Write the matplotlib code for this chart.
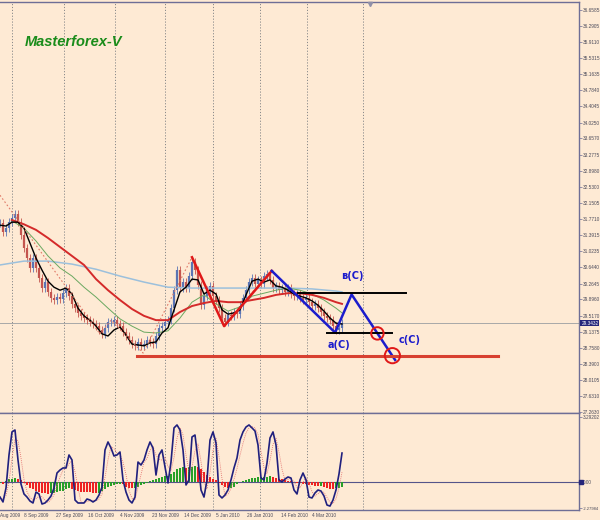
import matplotlib
matplotlib.use("Agg")
import matplotlib.pyplot as plt
import matplotlib.transforms as mtrans
import numpy as np
import pandas as pd

# ---- daily closes (one value per bar) ----
close = [31.68, 31.47, 31.56, 31.70, 31.80, 31.89, 31.70, 31.40, 31.10, 30.86,
         30.63, 30.86, 30.63, 30.39, 30.16, 30.30, 30.07, 29.93, 29.88, 29.95,
         29.90, 30.04, 30.16, 29.97, 29.79, 29.69, 29.58, 29.51, 29.46, 29.41,
         29.37, 29.32, 29.27, 29.18, 29.09, 29.23, 29.37, 29.37, 29.41, 29.32,
         29.27, 29.13, 29.04, 28.95, 28.85, 28.81, 28.90, 28.81, 28.85, 28.95,
         28.90, 28.85, 29.04, 29.23, 29.27, 29.37, 29.41, 29.69, 30.11, 30.58,
         30.16, 30.30, 30.16, 30.44, 30.77, 30.58, 30.23, 29.76, 29.97, 30.11,
         30.21, 29.97, 29.88, 29.69, 29.46, 29.37, 29.53, 29.51, 29.60, 29.55,
         29.74, 29.93, 30.11, 30.30, 30.39, 30.25, 30.35, 30.25, 30.44, 30.49,
         30.35, 30.16, 30.21, 30.11, 30.16, 30.07, 30.16, 30.02, 29.97, 30.02,
         29.93, 29.88, 29.93, 29.83, 29.74, 29.79, 29.69, 29.60, 29.51, 29.46,
         29.41, 29.27, 29.18, 29.23, 29.34]
last_price = 29.3432

# ---- moving averages ----
fast_ma_x = list(range(0, 115, 2))
fast_ma = [31.63, 31.61, 31.70, 31.70, 31.56, 31.21, 30.86, 30.58, 30.32, 30.18,
           30.11, 30.16, 30.02, 29.69, 29.51, 29.41, 29.27, 29.09, 29.04, 29.18,
           29.25, 29.06, 28.85, 28.83, 28.81, 28.88, 28.90, 29.11, 29.23, 29.65,
           30.07, 30.18, 30.37, 30.35, 30.02, 30.11, 30.02, 29.65, 29.55, 29.58,
           29.65, 30.00, 30.32, 30.37, 30.30, 30.35, 30.21, 30.18, 30.11, 30.02,
           29.97, 29.93, 29.86, 29.76, 29.62, 29.46, 29.34, 29.32]
mid_ma_x = list(range(4, 113, 4)) + [114]
red_ma = [31.75, 31.65, 31.52, 31.33, 31.12, 30.91, 30.70, 30.37, 30.11, 29.88,
          29.67, 29.51, 29.41, 29.41, 29.60, 29.74, 29.81, 29.86, 29.83, 29.83,
          29.88, 29.93, 30.00, 30.04, 30.04, 30.00, 29.93, 29.83, 29.79]
green_ma = [31.73, 31.56, 31.26, 30.91, 30.63, 30.44, 30.18, 29.95, 29.69, 29.44,
            29.27, 29.13, 29.11, 29.16, 29.46, 29.83, 30.00, 29.79, 29.62, 29.72,
            29.97, 30.04, 30.11, 30.16, 30.11, 30.02, 29.88, 29.69, 29.58]
slow_ma_x = list(range(0, 113, 8)) + [114]
slow_ma = [30.70, 30.79, 30.79, 30.72, 30.60, 30.44, 30.30, 30.18, 30.16, 30.16,
           30.16, 30.16, 30.16, 30.14, 30.09, 30.07]

# ---- zigzag / wave markup ----
zz_x = [0, 33.3, 37, 47.7, 64, 74.7, 90.3, 111.7]
zz_y = [32.33, 29.09, 29.41, 28.64, 30.88, 29.27, 30.58, 29.11]
red_wave_x = [64, 74.7, 90.6]
red_wave_y = [30.88, 29.27, 30.56]
blue_wave_x = [90.6, 111.7, 117.2, 131.7]
blue_wave_y = [30.56, 29.12, 30.01, 28.48]
level_b = (99.3, 135.3, 30.04)
level_a = (108.9, 130.6, 29.10)
level_low = (45.7, 166.0, 28.57)
targets_x = [125.8, 130.8]
targets_y = [29.10, 28.58]
wave_labels = [("в(C)", 117.6, 30.44), ("a(C)", 113.1, 28.83), ("c(C)", 136.4, 28.95)]

# ---- oscillator panel ----
osc = [-1.32, -1.75, -0.53, 2.37, 4.39, 4.56, 1.93, -0.18, -1.05, -1.32,
       -1.67, -1.84, -0.88, -1.05, -1.93, -1.84, -1.58, -1.23, -0.53, 0.79,
       1.05, 1.23, 1.23, 2.37, 1.93, -1.58, -1.84, -1.84, -1.84, -1.49,
       -1.58, -1.75, -1.58, -1.14, -0.44, 2.81, 3.51, 2.98, 2.28, 2.37,
       2.63, 0.18, -0.88, -1.58, -1.84, -1.32, 1.75, 1.49, 1.93, 2.81,
       3.51, 2.98, 0.61, 2.37, 2.81, 1.32, -0.09, 1.75, 4.74, 5.00,
       4.56, 2.81, -0.26, 0.18, 3.95, 4.12, 1.93, -0.70, -1.32, 0.18,
       3.68, 4.39, 3.42, -1.14, -1.40, -1.14, -0.70, 0.18, 1.23, 2.11,
       3.68, 4.39, 4.82, 5.00, 4.74, 4.47, 3.25, 0.35, 0.18, 1.67,
       3.86, 4.39, 3.25, 0.18, 0.00, 0.26, 0.44, 0.35, -0.70, -1.05,
       0.18, 0.79, 0.18, -1.32, -1.40, -0.96, -0.70, -0.79, -1.23, -2.02,
       -2.11, -1.58, -0.70, 0.70, 2.54]
hist = [-0.10, -0.15, 0.10, 0.25, 0.30, 0.35, 0.30, 0.15, -0.05, -0.30,
        -0.50, -0.65, -0.80, -0.90, -0.95, -1.00, -1.05, -1.00, -0.95, -0.90,
        -0.82, -0.75, -0.65, -0.55, -0.60, -0.70, -0.80, -0.85, -0.88, -0.90,
        -0.92, -0.95, -1.00, -0.95, -0.80, -0.60, -0.45, -0.35, -0.28, -0.20,
        -0.15, -0.20, -0.40, -0.50, -0.55, -0.50, -0.40, -0.30, -0.20, -0.05,
        0.05, 0.15, 0.25, 0.35, 0.45, 0.50, 0.55, 0.70, 0.90, 1.10,
        1.20, 1.30, 1.25, 1.30, 1.35, 1.40, 1.35, 1.10, 0.85, 0.60,
        0.45, 0.30, 0.15, -0.10, -0.30, -0.45, -0.55, -0.55, -0.40, -0.20,
        0.00, 0.10, 0.20, 0.28, 0.33, 0.38, 0.40, 0.42, 0.45, 0.48,
        0.50, 0.45, 0.38, 0.30, 0.25, 0.18, 0.12, 0.05, -0.02, -0.08,
        -0.12, -0.16, -0.20, -0.24, -0.28, -0.32, -0.36, -0.34, -0.40, -0.50,
        -0.58, -0.62, -0.56, -0.50, -0.45]

# ---- axis labelling ----
price_ticks = [36.6585, 36.2905, 35.9110, 35.5315, 35.1635, 34.7840, 34.4045,
               34.0250, 33.6570, 33.2775, 32.8980, 32.5300, 32.1505, 31.7710,
               31.3915, 31.0235, 30.6440, 30.2645, 29.8960, 29.5170, 29.1375,
               28.7580, 28.3900, 28.0105, 27.6310, 27.2630]
osc_ticks = [5.73, 0.0, -2.28]
osc_tick_labels = ["3.29202", "0.00", "-2.27984"]
date_labels = ["Aug 2009", "8 Sep 2009", "27 Sep 2009", "16 Oct 2009", "4 Nov 2009",
               "23 Nov 2009", "14 Dec 2009", "5 Jan 2010", "26 Jan 2010",
               "14 Feb 2010", "4 Mar 2010"]
date_bars = [0.1, 8, 18.7, 29.3, 40, 50.7, 61.3, 72, 82.3, 93.7, 104]
grid_bars = [4, 21.3, 38.3, 55, 71, 86.7, 102.3, 121]

BG = "#FEEAD4"
FRAME = "#6e6e96"
TXT = "#4a4a5a"
SMALL = dict(family="Liberation Sans", size=3.4)

fig = plt.figure(figsize=(6, 5.2), dpi=100, facecolor=BG)
ax = fig.add_axes([0, 0.2058, 0.965, 0.790], facecolor=BG)
ax2 = fig.add_axes([0, 0.0192, 0.965, 0.1866], facecolor=BG)

n = len(close)
x = np.arange(n)
c = np.array(close)
o = np.r_[c[0], c[:-1]]
wick = 0.1
hi = np.maximum(o, c) + wick
lo = np.minimum(o, c) - wick
up = c >= o

for a in (ax, ax2):
    for gx in grid_bars:
        a.axvline(gx, color="#8a8a8a", lw=0.7, ls=(0, (1.2, 1.8)), zorder=0)

# candles
ax.vlines(x[up], lo[up], hi[up], color="#5a74b4", lw=0.6, zorder=2)
ax.vlines(x[up], o[up], c[up], color="#5a74b4", lw=1.6, zorder=2)
ax.vlines(x[~up], lo[~up], hi[~up], color="#c4554e", lw=0.6, zorder=2)
ax.vlines(x[~up], c[~up], o[~up], color="#c4554e", lw=1.6, zorder=2)

ax.axhline(last_price, color="#a8a8a8", lw=0.7, zorder=1)

ax.plot(slow_ma_x, slow_ma, color="#9cc0dc", lw=1.1, zorder=3)
ax.plot(mid_ma_x, green_ma, color="#6aa860", lw=0.7, zorder=3)
ax.plot(mid_ma_x, red_ma, color="#d42a2a", lw=1.4, zorder=3)
ax.plot(fast_ma_x, fast_ma, color="black", lw=1.0, zorder=4)

ax.plot(zz_x, zz_y, color="#e07a68", lw=0.8, ls=(0, (1.5, 2)), zorder=4)
ax.plot(red_wave_x, red_wave_y, color="#e01818", lw=1.8, zorder=5)
ax.plot(blue_wave_x, blue_wave_y, color="#1c1ccc", lw=1.8, zorder=5)

for x0, x1, yv in (level_b, level_a):
    ax.plot([x0, x1], [yv, yv], color="black", lw=1.4, zorder=5)
ax.plot(level_low[:2], [level_low[2]] * 2, color="#d84030", lw=2.2, zorder=5)

ax.scatter(targets_x, targets_y, s=[80, 120], facecolors="none",
           edgecolors="#e01818", linewidths=1.4, zorder=6)

for txt, tx, ty in wave_labels:
    ax.text(tx, ty, txt, color="#1c1ccc", fontsize=7, fontweight="bold",
            ha="center", va="center", zorder=7)

ax.text(0.043, 0.903, "Masterforex-V", transform=ax.transAxes, color="#1a8c1a",
        fontsize=10.5, fontweight="bold", style="italic",
        family="Liberation Sans", va="center", ha="left")

ax.plot([123.3], [36.80], marker="v", ms=3, color="#9090a8", zorder=7, clip_on=False)

ax.set_xlim(0, 193)
ax.set_ylim(27.240, 36.842)
ax.yaxis.tick_right()
ax.set_yticks(price_ticks)
ax.set_yticklabels([f"{t:.4f}" for t in price_ticks])
ax.set_xticks([])

# current price tag
tr = mtrans.blended_transform_factory(ax.transAxes, ax.transData)
ax.text(1.004, last_price, f"{last_price:.4f}", transform=tr, color="white",
        va="center", ha="left", clip_on=False,
        bbox=dict(boxstyle="square,pad=0.2", fc="#26267a", ec="none"), zorder=8,
        **SMALL)

# oscillator panel
hv = np.array(hist)
rising = np.r_[True, hv[1:] >= hv[:-1]]
ax2.bar(x, hv, width=0.75, color=np.where(rising, "#28a028", "#ee2222"), zorder=2)
sig = pd.Series(osc).rolling(3, min_periods=1).mean()
ax2.plot(x, sig, color="#e06060", lw=0.6, ls=(0, (1, 1.5)), zorder=3)
ax2.plot(x, osc, color="#20207e", lw=1.2, zorder=4)
ax2.axhline(0, color="#55558a", lw=0.8, zorder=1)
ax2.set_xlim(0, 193)
ax2.set_ylim(-2.456, 6.05)
ax2.yaxis.tick_right()
ax2.set_yticks(osc_ticks)
ax2.set_yticklabels(osc_tick_labels)
ax2.set_xticks([])
ax2.plot([193.5], [0], marker="s", ms=2.5, color="#26267a", clip_on=False, zorder=8)

trx = mtrans.blended_transform_factory(ax2.transData, ax2.transAxes)
for lab, bx in zip(date_labels, date_bars):
    ax2.text(bx, -0.03, lab, transform=trx, color=TXT,
             ha="left", va="top", clip_on=False, **SMALL)

for a in (ax, ax2):
    a.tick_params(axis="y", labelcolor=TXT, length=2, width=0.5,
                  color=FRAME, pad=1)
    for lbl in a.get_yticklabels():
        lbl.set_family(SMALL["family"])
        lbl.set_size(SMALL["size"])
    a.spines["left"].set_visible(False)
    for s in ("top", "right", "bottom"):
        a.spines[s].set_color(FRAME)
        a.spines[s].set_linewidth(1.0)

# the longest oscillator label needs a touch less room
ax2.get_yticklabels()[-1].set_size(3.0)

fig.savefig("out.png", dpi=100, facecolor=BG)
